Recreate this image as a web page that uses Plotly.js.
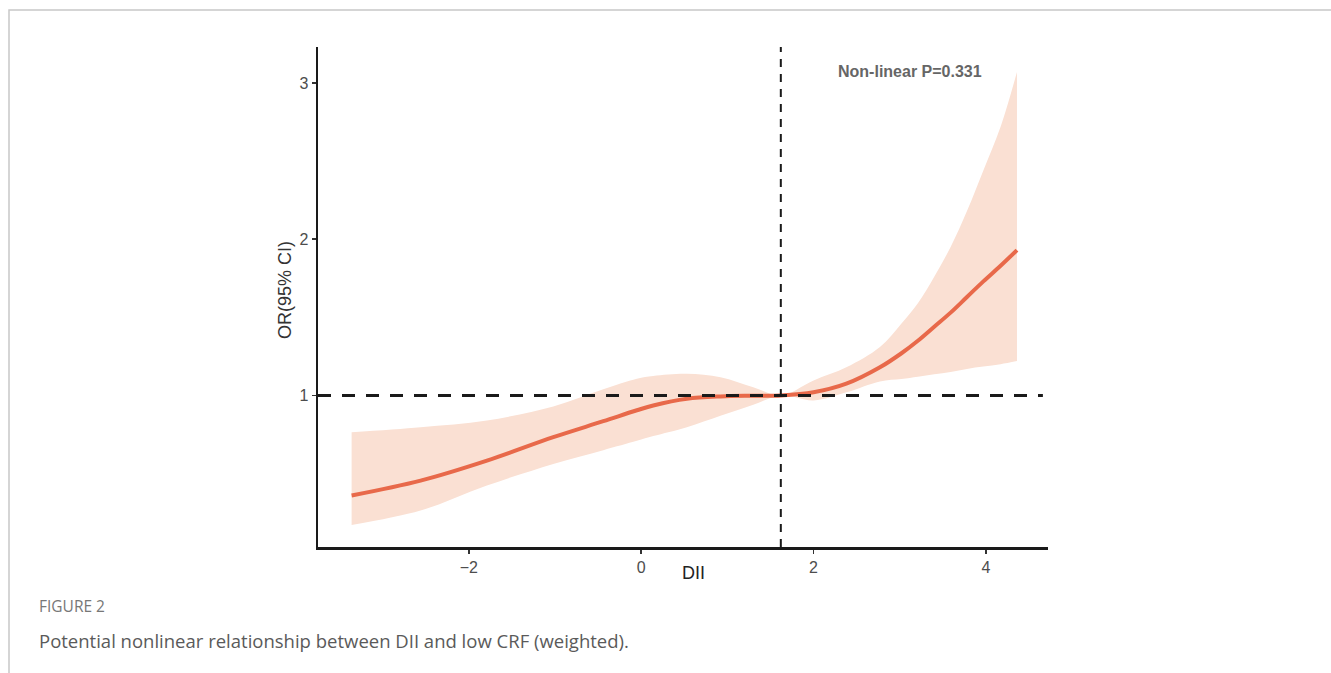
<!DOCTYPE html>
<html>
<head>
<meta charset="utf-8">
<script src="https://cdn.plot.ly/plotly-3.0.1.min.js"></script>
<style>
html,body{margin:0;padding:0;background:#fff;}
#chart{width:1331px;height:673px;}
</style>
</head>
<body>
<div id="chart"></div>
<script>
// DII values and estimated OR with 95% CI
const dii   = [-3.36, -2.56, -1.79, -1.02, -0.44, -0.05, 0.14, 0.53, 0.92, 1.30, 1.62, 2.00, 2.38, 2.77, 3.02, 3.21, 3.40, 3.59, 3.78, 3.97, 4.17, 4.36];
const orFit = [0.36, 0.455, 0.583, 0.733, 0.835, 0.905, 0.936, 0.979, 0.994, 0.998, 1.00, 1.02, 1.075, 1.18, 1.27, 1.35, 1.44, 1.53, 1.63, 1.73, 1.83, 1.93];
const ciLow = [0.171, 0.263, 0.423, 0.562, 0.65, 0.71, 0.74, 0.797, 0.87, 0.94, 1.00, 0.968, 1.02, 1.09, 1.105, 1.12, 1.135, 1.15, 1.17, 1.185, 1.20, 1.22];
const ciUp  = [0.765, 0.797, 0.84, 0.93, 1.04, 1.107, 1.125, 1.139, 1.117, 1.053, 1.00, 1.096, 1.18, 1.31, 1.46, 1.59, 1.76, 1.95, 2.18, 2.44, 2.72, 3.07];
const refDII = 1.62;
const refOR = 1;
const xTicks = [-2, 0, 2, 4];
const yTicks = [1, 2, 3];
const pText = "Non-linear P=0.331";
const figLabel = "FIGURE 2";
const caption = "Potential nonlinear relationship between DII and low CRF (weighted).";

// plot area in pixels
const L = 318, R = 1048, T = 47, B = 547;
const px = v => (v - L) / (R - L);
const py = v => (B - v) / (B - T);

const traces = [
  {x: dii, y: ciLow, type: 'scatter', mode: 'lines', line: {width: 0, shape: 'spline', color: 'rgba(0,0,0,0)'}, hoverinfo: 'skip', showlegend: false},
  {x: dii, y: ciUp, type: 'scatter', mode: 'lines', fill: 'tonexty', fillcolor: '#fae0d3', line: {width: 0, shape: 'spline', color: 'rgba(0,0,0,0)'}, hoverinfo: 'skip', showlegend: false},
  {x: dii, y: orFit, type: 'scatter', mode: 'lines', line: {width: 4, shape: 'spline', color: '#e8694a'}, showlegend: false}
];

const layout = {
  width: 1331, height: 673,
  margin: {l: L, r: 1331 - R, t: T, b: 673 - B},
  paper_bgcolor: '#fff', plot_bgcolor: '#fff',
  font: {family: 'Liberation Sans, Arial, sans-serif', color: '#4d4d4d', size: 14},
  xaxis: {
    range: [-3.75, 4.72], tickvals: xTicks, showgrid: false, zeroline: false,
    showline: true, linecolor: '#1a1a1a', linewidth: 2.5,
    ticks: 'outside', ticklen: 4, tickwidth: 1.5, tickcolor: '#333',
    tickfont: {size: 16, color: '#4d4d4d'}, fixedrange: true
  },
  yaxis: {
    range: [0.03, 3.23], tickvals: yTicks, showgrid: false, zeroline: false,
    showline: true, linecolor: '#1a1a1a', linewidth: 2.5,
    ticks: 'outside', ticklen: 4, tickwidth: 1.5, tickcolor: '#333',
    tickfont: {size: 16, color: '#4d4d4d'}, fixedrange: true
  },
  shapes: [
    {type: 'line', xref: 'paper', yref: 'y', x0: 0, x1: 0.993, y0: refOR, y1: refOR,
     line: {color: '#1a1a1a', width: 3, dash: '13px,11px'}},
    {type: 'line', xref: 'x', yref: 'paper', x0: refDII, x1: refDII, y0: 0, y1: 1,
     line: {color: '#1a1a1a', width: 2, dash: '8px,7px'}},
    {type: 'rect', xref: 'paper', yref: 'paper', x0: px(9), x1: px(1345), y0: py(690), y1: py(10),
     line: {color: '#c8c8c8', width: 1.5}, fillcolor: 'rgba(0,0,0,0)', layer: 'below'}
  ],
  annotations: [
    {text: pText, xref: 'paper', yref: 'paper', x: px(910), y: py(71), xanchor: 'center', yanchor: 'middle', showarrow: false,
     font: {size: 16, color: '#666', family: 'Liberation Sans, Arial, sans-serif', weight: 'bold'}},
    {text: 'DII', xref: 'paper', yref: 'paper', x: px(693), y: py(573), xanchor: 'center', yanchor: 'middle', showarrow: false,
     font: {size: 18, color: '#222'}},
    {text: 'OR(95% CI)', xref: 'paper', yref: 'paper', x: px(285), y: py(290), xanchor: 'center', yanchor: 'middle', showarrow: false,
     textangle: -90, font: {size: 18, color: '#333'}},
    {text: figLabel, xref: 'paper', yref: 'paper', x: px(37), y: py(606), xanchor: 'left', yanchor: 'middle', showarrow: false,
     font: {size: 15.5, color: '#777', family: 'Open Sans, sans-serif'}},
    {text: caption, xref: 'paper', yref: 'paper', x: px(37), y: py(640), xanchor: 'left', yanchor: 'middle', showarrow: false,
     font: {size: 18.5, color: '#5a5a5a', family: 'Open Sans, sans-serif'}}
  ]
};

Plotly.newPlot('chart', traces, layout, {displayModeBar: false, staticPlot: true});
</script>
</body>
</html>
